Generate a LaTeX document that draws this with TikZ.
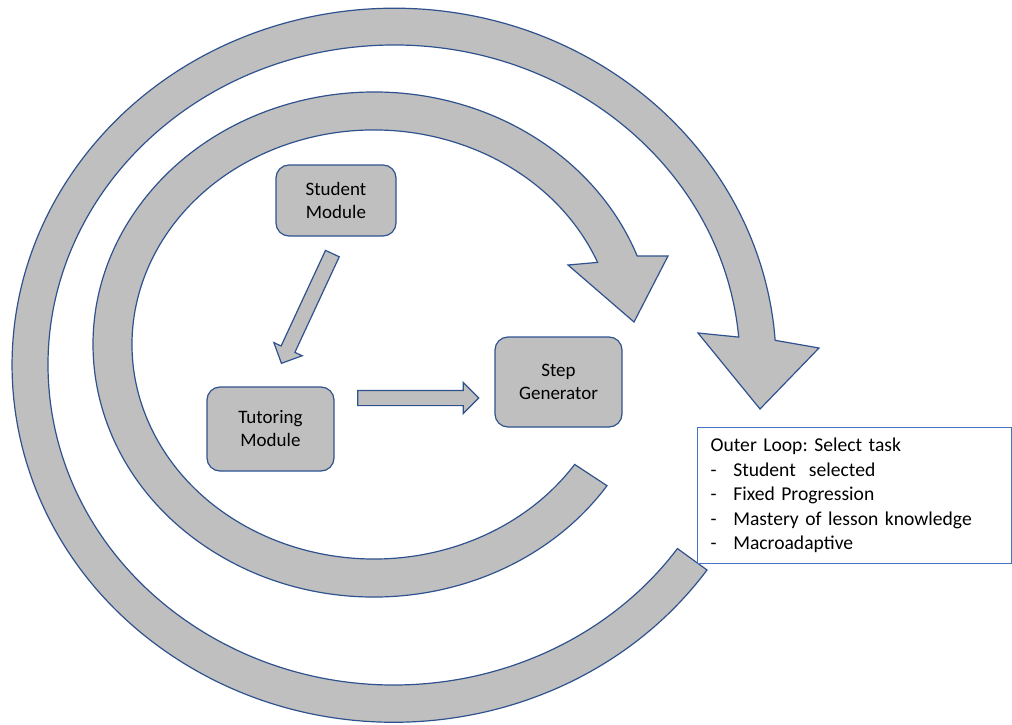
\documentclass[tikz,border=0pt]{standalone}
\usepackage{fontspec}
\setmainfont{Carlito}
\usetikzlibrary{shapes.arrows}
\definecolor{shapeline}{RGB}{47,82,143}
\definecolor{boxline}{RGB}{68,114,196}
\definecolor{shapefill}{RGB}{191,191,191}

\begin{document}
\frenchspacing
\begin{tikzpicture}[x=1pt, y=-1pt,
    band/.style={draw=shapeline, fill=shapefill, line width=1.2pt},
    module/.style={draw=shapeline, fill=shapefill, line width=1.2pt, rounded corners=13pt,
      align=center, inner sep=0pt, font=\fontsize{19}{23}\selectfont},
    blockarrow/.style={single arrow, draw=shapeline, fill=shapefill, line width=1.2pt,
      minimum height=121pt, inner xsep=0pt, inner ysep=7pt, single arrow head extend=8pt,
      single arrow tip angle=90}]
  \useasboundingbox (0,0) rectangle (1012,725);
  % outer loop
  \draw[band] (707,570) arc[start angle=-35, end angle=-356, x radius=382pt, y radius=357pt]
    -- (819,348) -- (760,409) -- (698,333) -- (738.7,337.1)
    arc[start angle=-355, end angle=-35, x radius=346pt, y radius=320pt] -- cycle;
  % inner loop
  \draw[band] (607,485.7) arc[start angle=-34, end angle=-339.5, x radius=281pt, y radius=252.5pt]
    -- (668,256) -- (634,322) -- (568,265) -- (597.6,262.4)
    arc[start angle=-337.5, end angle=-34, x radius=242pt, y radius=214.5pt] -- cycle;

  \node[module, minimum width=120pt, minimum height=71pt] (stu) at (336,200.5) {Student\\Module};
  \node[module, minimum width=127pt, minimum height=84pt] (tut) at (270.5,429) {Tutoring\\Module};
  \node[module, minimum width=127pt, minimum height=90pt] (gen) at (558.5,382) {Step\\Generator};

  \node[blockarrow, rotate=-114.9] (stutut) at (308.5,305) {};
  \node[blockarrow] (tutgen) at (414.5,398) {};

  \node[draw=boxline, fill=white, line width=1.2pt, anchor=north west, minimum width=313.5pt,
    minimum height=136pt, text width=287.5pt, inner xsep=13pt, align=left,
    font=\fontsize{19.6}{24.5}\selectfont] (outer) at (697,427)
    {Outer Loop: Select task\\
     \makebox[22.7pt][l]{-}Student\ \ selected\\
     \makebox[22.7pt][l]{-}Fixed Progression\\
     \makebox[22.7pt][l]{-}Mastery of lesson knowledge\\
     \makebox[22.7pt][l]{-}Macroadaptive};
\end{tikzpicture}
\end{document}
